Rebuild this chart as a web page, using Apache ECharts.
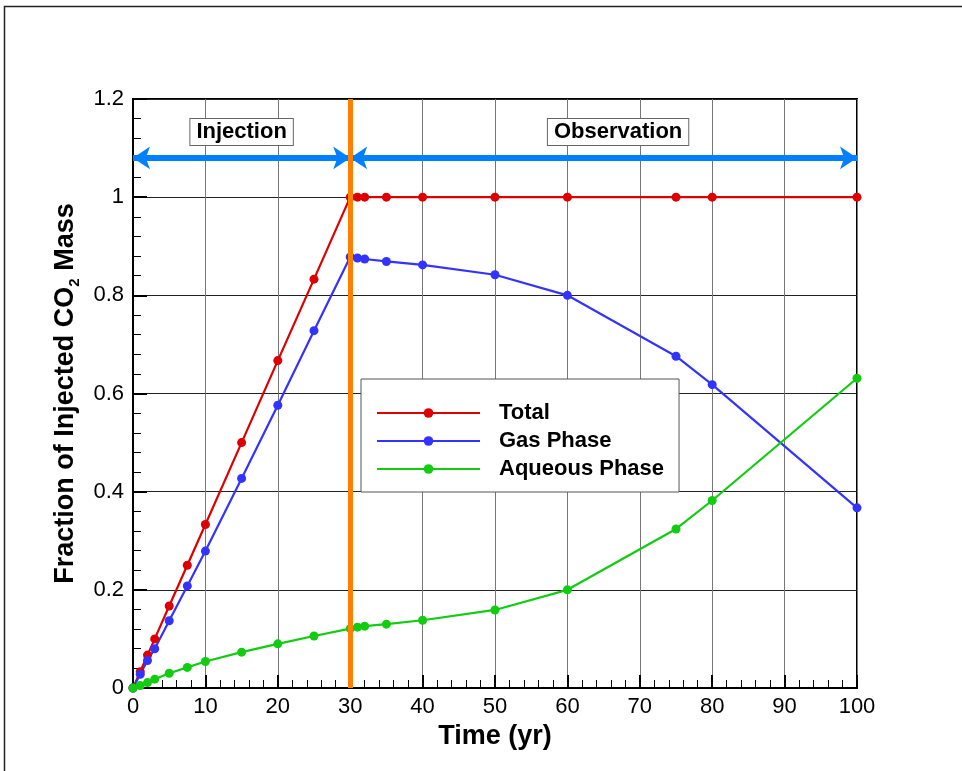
<!DOCTYPE html>
<html>
<head>
<meta charset="utf-8">
<script src="https://cdn.jsdelivr.net/npm/echarts@6/dist/echarts.min.js"></script>
<style>
html, body { margin: 0; padding: 0; background: #fff; }
#chart { width: 962px; height: 771px; }
</style>
</head>
<body>
<div id="chart"></div>
<script>
// time (yr) and mass fractions
var time = [0, 1, 2, 3, 5, 7.5, 10, 15, 20, 25, 30, 31, 32, 35, 40, 50, 60, 75, 80, 100];
var total = [0, 0.033, 0.067, 0.1, 0.167, 0.25, 0.333, 0.5, 0.667, 0.833, 1, 1, 1, 1, 1, 1, 1, 1, 1, 1];
var gas = [0, 0.028, 0.056, 0.08, 0.137, 0.208, 0.279, 0.427, 0.576, 0.728, 0.878, 0.876, 0.874, 0.869, 0.862, 0.842, 0.8, 0.676, 0.618, 0.367];
var aqueous = [0, 0.005, 0.011, 0.018, 0.03, 0.042, 0.054, 0.073, 0.09, 0.106, 0.121, 0.124, 0.126, 0.13, 0.138, 0.159, 0.2, 0.324, 0.382, 0.631];

var injectionEnd = 30;
var phaseY = 1.08;
var phases = [
    {name: 'Injection', from: 0, to: 30, labelX: 15},
    {name: 'Observation', from: 30, to: 100, labelX: 67}
];
var phaseLabelY = 1.133;

function pairs(ys) {
    return time.map(function (t, i) { return [t, ys[i]]; });
}

function curve(name, ys, color) {
    return {
        name: name,
        type: 'line',
        data: pairs(ys),
        symbol: 'circle',
        symbolSize: 9,
        clip: false,
        color: color,
        lineStyle: {width: 2.2, color: color},
        itemStyle: {color: color}
    };
}

var myChart = echarts.init(document.getElementById('chart'));
var option = {
    backgroundColor: '#fff',
    animation: false,
    textStyle: {fontFamily: 'Liberation Sans, Arial, sans-serif'},
    graphic: [{
        type: 'rect',
        shape: {x: 4.5, y: 6.5, width: 1200, height: 1200},
        style: {fill: null, stroke: '#222', lineWidth: 1.5},
        silent: true
    }],
    grid: {
        left: 133, right: 105, top: 99, bottom: 83,
        show: true, borderColor: '#000', borderWidth: 2
    },
    legend: {
        orient: 'vertical',
        left: 361, top: 379,
        data: ['Total', 'Gas Phase', 'Aqueous Phase'],
        selectedMode: false,
        backgroundColor: '#fff',
        borderColor: '#555',
        borderWidth: 1,
        padding: [23, 15, 12, 15],
        itemWidth: 103,
        itemHeight: 12,
        itemGap: 6,
        textStyle: {
            fontSize: 22, fontWeight: 'bold', color: '#000', lineHeight: 22,
            padding: [0, 0, 0, 14]
        }
    },
    xAxis: {
        type: 'value',
        min: 0, max: 100, interval: 10,
        name: 'Time (yr)',
        nameLocation: 'middle',
        nameGap: 30,
        nameTextStyle: {fontSize: 27, fontWeight: 'bold', color: '#000'},
        axisLine: {show: true, lineStyle: {color: '#000', width: 2}},
        axisTick: {inside: true, length: 13, lineStyle: {color: '#000', width: 2}},
        minorTick: {show: true, splitNumber: 5, length: 8, lineStyle: {color: '#000', width: 1}},
        axisLabel: {fontSize: 22, color: '#000', margin: 8},
        splitLine: {show: true, lineStyle: {color: '#777', width: 1}}
    },
    yAxis: {
        type: 'value',
        min: 0, max: 1.2, interval: 0.2,
        name: '{b|Fraction of Injected CO}{s|2}{b| Mass}',
        nameLocation: 'middle',
        nameGap: 51,
        nameTextStyle: {
            rich: {
                b: {fontSize: 27, fontWeight: 'bold', color: '#000', lineHeight: 32},
                s: {fontSize: 15, fontWeight: 'bold', color: '#000', lineHeight: 32, verticalAlign: 'bottom'}
            }
        },
        axisLine: {show: true, lineStyle: {color: '#000', width: 2}},
        axisTick: {inside: true, length: 14, lineStyle: {color: '#000', width: 2}},
        minorTick: {show: true, splitNumber: 5, length: 8, lineStyle: {color: '#000', width: 1}},
        axisLabel: {fontSize: 22, color: '#000', margin: 9},
        splitLine: {show: true, lineStyle: {color: '#222', width: 1}}
    },
    series: [
        curve('Total', total, '#dd0000'),
        curve('Gas Phase', gas, '#3333ff'),
        curve('Aqueous Phase', aqueous, '#11cc11'),
        {
            name: 'phases',
            type: 'line',
            data: [],
            z: 3,
            markLine: {
                silent: true,
                symbol: ['arrow', 'arrow'],
                symbolSize: 17,
                label: {show: false},
                lineStyle: {color: '#0080ff', width: 6, type: 'solid'},
                data: phases.map(function (p) {
                    return [{coord: [p.from, phaseY]}, {coord: [p.to, phaseY]}];
                })
            },
            markPoint: {
                silent: true,
                symbol: 'circle',
                symbolSize: 0,
                label: {
                    show: true,
                    position: 'inside',
                    formatter: '{b}',
                    fontSize: 22,
                    fontWeight: 'bold',
                    color: '#000',
                    backgroundColor: '#fff',
                    borderColor: '#666',
                    borderWidth: 1,
                    padding: [3, 6, 1, 6]
                },
                data: phases.map(function (p) {
                    return {name: p.name, coord: [p.labelX, phaseLabelY]};
                })
            }
        },
        {
            name: 'injectionEnd',
            type: 'line',
            data: [],
            z: 4,
            markLine: {
                silent: true,
                symbol: 'none',
                label: {show: false},
                lineStyle: {color: '#ff8000', width: 5, type: 'solid'},
                data: [{xAxis: injectionEnd}]
            }
        }
    ]
};
myChart.setOption(option);
</script>
</body>
</html>
